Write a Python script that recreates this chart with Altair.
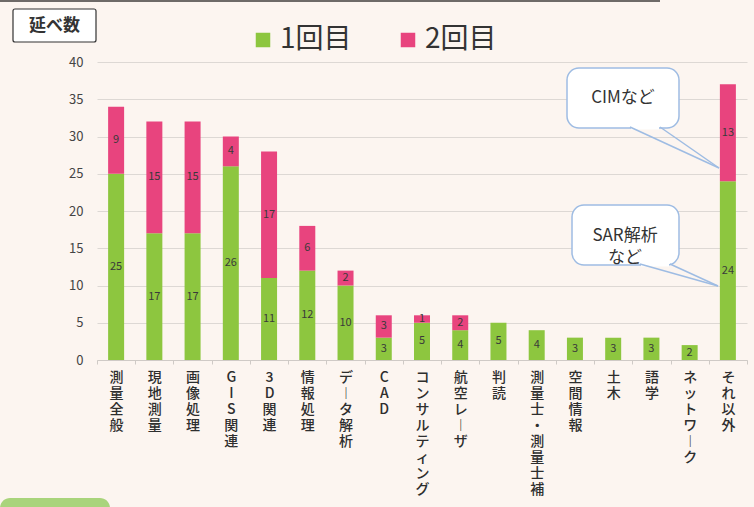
import altair as alt
import pandas as pd

categories = ["測量全般", "現地測量", "画像処理", "GIS関連", "3D関連", "情報処理", "データ解析",
              "CAD", "コンサルティング", "航空レーザ", "判読", "測量士・測量士補", "空間情報",
              "土木", "語学", "ネットワーク", "それ以外"]
first_counts = [25, 17, 17, 26, 11, 12, 10, 3, 5, 4, 5, 4, 3, 3, 3, 2, 24]
second_counts = [9, 15, 15, 4, 17, 6, 2, 3, 1, 2, 0, 0, 0, 0, 0, 0, 13]
series_names = ["1回目", "2回目"]
y_ticks = [0, 5, 10, 15, 20, 25, 30, 35, 40]
y_label = "延べ数"
callout_top = "CIMなど"
callout_bottom = "SAR解析\nなど"

rows = []
for c, a, b in zip(categories, first_counts, second_counts):
    rows.append({"cat": c, "series": series_names[0], "n": a})
    if b > 0:
        rows.append({"cat": c, "series": series_names[1], "n": b})
df = pd.DataFrame(rows)

FONT = "Noto Sans CJK JP"
GREEN = "#8DC63F"
PINK = "#E8447E"
BG = "#FCF5F0"
BLUE = "#9EBCE3"

x_axis = alt.Axis(
    labelAngle=0, labelBaseline="top", labelAlign="center",
    labelExpr="split(replace(datum.label, 'ー', '︱'), '')",
    labelLineHeight=16, labelFontSize=14, labelFont=FONT, labelColor="#2E2E2E",
    labelFontWeight=500,
    labelPadding=6, labelOverlap=False, labelLimit=0,
    tickBand="extent", tickSize=4, tickColor="#CFCAC6",
    domainColor="#CFCAC6", grid=False,
)
y_axis = alt.Axis(values=y_ticks, labelFontSize=13, labelFont=FONT,
                  labelColor="#444444", labelPadding=14, ticks=False,
                  domain=False, gridColor="#DDD8D4", gridWidth=1)
y_scale = alt.Scale(domain=[0, 40], nice=False)
x_scale = alt.Scale(paddingInner=0, paddingOuter=0)

base = alt.Chart(df).transform_stack(
    stack="n", groupby=["cat"], as_=["y0", "y1"],
    sort=[alt.SortField("series", order="ascending")],
).transform_calculate(mid="(datum.y0 + datum.y1) / 2")

bars = base.mark_bar(size=16).encode(
    x=alt.X("cat:N", sort=categories, title=None, scale=x_scale, axis=x_axis),
    y=alt.Y("y0:Q", title=None, scale=y_scale, axis=y_axis),
    y2="y1:Q",
    color=alt.Color("series:N",
                    scale=alt.Scale(domain=series_names, range=[GREEN, PINK]),
                    legend=alt.Legend(orient="none", legendX=152, legendY=-36,
                                      direction="horizontal", title=None,
                                      symbolType="square", symbolSize=210,
                                      symbolStrokeWidth=0, labelFontSize=28,
                                      labelFont=FONT, labelColor="#333333",
                                      columnPadding=42, labelOffset=3)),
)

labels = base.mark_text(fontSize=11, font=FONT, color="#3A3A3A").encode(
    x=alt.X("cat:N", sort=categories, title=None, scale=x_scale, axis=x_axis),
    y=alt.Y("mid:Q", title=None, scale=y_scale, axis=y_axis),
    text="n:Q",
)

one = pd.DataFrame({"k": [0]})

def rect(x, x2, y, y2, **kw):
    return alt.Chart(one).mark_rect(**kw).encode(
        x=alt.value(x), x2=alt.value(x2), y=alt.value(y), y2=alt.value(y2))

def rule(x, y, x2, y2, **kw):
    return alt.Chart(one).mark_rule(**kw).encode(
        x=alt.value(x), x2=alt.value(x2), y=alt.value(y), y2=alt.value(y2))

def text(x, y, t, **kw):
    return alt.Chart(one).mark_text(font=FONT, color="#333333", **kw).encode(
        x=alt.value(x), y=alt.value(y), text=alt.value(t))

# plot origin is at (97, 62) of the page
annot = [
    rule(-97, -61, 563, -61, color="#6E6A68", strokeWidth=2),
    rect(-84, -1, -53, -20, fill="#FFFFFF", stroke="#333333", strokeWidth=1.2, cornerRadius=2),
    text(-42.5, -36.5, y_label, fontSize=17, fontWeight="bold"),
    rect(470, 582, 6, 66, fill="#FFFFFF", stroke=BLUE, strokeWidth=1.5, cornerRadius=12),
    rule(534, 66, 562, 66, color="#FFFFFF", strokeWidth=3),
    rule(533, 65, 622, 106, color=BLUE, strokeWidth=1.5),
    rule(563, 65, 622, 106, color=BLUE, strokeWidth=1.5),
    text(526, 36, callout_top, fontSize=17),
    rect(475, 582, 143, 203, fill="#FFFFFF", stroke=BLUE, strokeWidth=1.5, cornerRadius=12),
    rule(544, 203, 572, 203, color="#FFFFFF", strokeWidth=3),
    rule(543, 202, 621, 224, color=BLUE, strokeWidth=1.5),
    rule(573, 202, 621, 224, color=BLUE, strokeWidth=1.5),
    text(528, 174, callout_bottom, fontSize=17, lineBreak="\n", lineHeight=22),
    rect(-97, 13, 436, 460, fill="#A9D47C", cornerRadius=10),
]

chart = alt.layer(bars, labels, *annot).properties(
    width=650, height=298,
    background=BG,
    padding={"left": 97, "top": 62, "right": 7, "bottom": 147},
    autosize=alt.AutoSizeParams(type="none"),
).configure_view(stroke=None)

chart.save("out.html", embed_options={"renderer": "svg", "actions": False})
